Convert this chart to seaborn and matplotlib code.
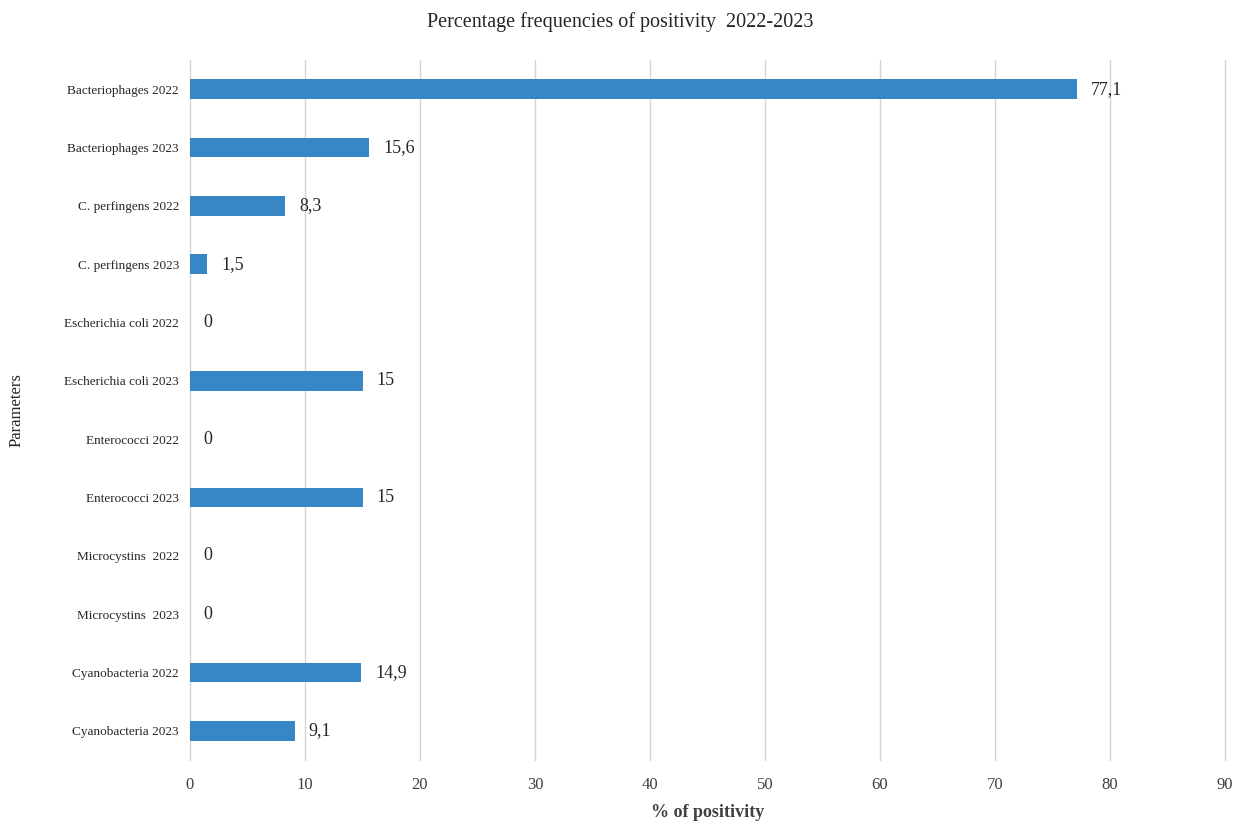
import matplotlib
matplotlib.use("Agg")
import matplotlib.pyplot as plt
import seaborn as sns
import pandas as pd

categories = ["Bacteriophages 2022", "Bacteriophages 2023", "C. perfingens 2022",
              "C. perfingens 2023", "Escherichia coli 2022", "Escherichia coli 2023",
              "Enterococci 2022", "Enterococci 2023", "Microcystins  2022",
              "Microcystins  2023", "Cyanobacteria 2022", "Cyanobacteria 2023"]
values = [77.1, 15.6, 8.3, 1.5, 0, 15, 0, 15, 0, 0, 14.9, 9.1]
value_labels = ["77,1", "15,6", "8,3", "1,5", "0", "15", "0", "15", "0", "0", "14,9", "9,1"]
xticks = [0, 10, 20, 30, 40, 50, 60, 70, 80, 90]

sns.set_theme(style="white")
plt.rcParams['font.family'] = ['Liberation Serif', 'DejaVu Serif']

df = pd.DataFrame({"Parameter": categories, "Value": values})

fig = plt.figure(figsize=(12.45, 8.25), dpi=100)
ax = fig.add_axes([190/1245, 65/825, 1035/1245, 700/825])

sns.barplot(data=df, y="Parameter", x="Value", orient="h", color="#3787c6",
            saturation=1, width=0.34, ax=ax, order=categories, edgecolor="none",
            linewidth=0)

ax.set_xlim(0, 90)
ax.set_ylim(len(categories) - 0.5, -0.5)
ax.set_xticks(xticks)
ax.set_xticklabels([str(t) for t in xticks], fontsize=12, color="#404040")
ax.tick_params(axis="x", length=0, pad=12)
ax.tick_params(axis="y", length=0, pad=8, labelsize=9.5, labelcolor="#262626")
ax.xaxis.grid(True, color="#d4d4d4", linewidth=1)
for gl in ax.get_xgridlines():
    gl.set_clip_on(False)
ax.set_axisbelow(True)
for s in ax.spines.values():
    s.set_visible(False)

for i, (v, lab) in enumerate(zip(values, value_labels)):
    ax.text(v + 1.2, i, lab, va="center", ha="left", fontsize=13, color="#262626")

ax.set_xlabel("% of positivity", fontsize=13, fontweight="bold", color="#404040", labelpad=8)
ax.set_ylabel("Parameters", fontsize=12, color="#262626")
ax.yaxis.set_label_coords(-0.16, 0.5)
fig.suptitle("Percentage frequencies of positivity  2022-2023", x=0.498, y=0.985,
             fontsize=14.5, color="#262626")

fig.savefig("out.png", dpi=100)
